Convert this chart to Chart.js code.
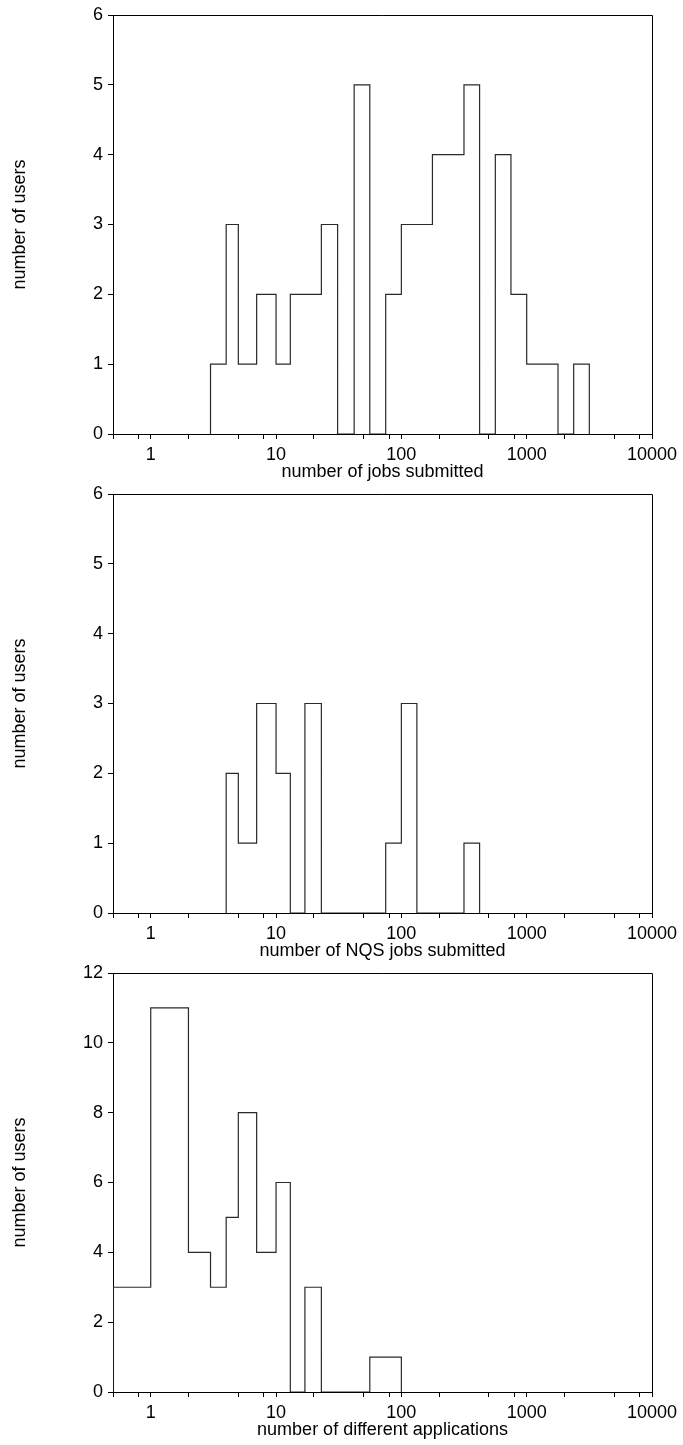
<!DOCTYPE html>
<html>
<head>
<meta charset="utf-8">
<script src="https://cdn.jsdelivr.net/npm/chart.js@4/dist/chart.umd.min.js"></script>
<style>
  body { margin: 0; background: #fff; }
  .panel { position: absolute; left: 0; width: 683px; height: 483px; }
</style>
</head>
<body>
<div class="panel" style="top:0px"><canvas id="jobs" width="683" height="483"></canvas></div>
<div class="panel" style="top:479px"><canvas id="nqs" width="683" height="483"></canvas></div>
<div class="panel" style="top:958px"><canvas id="apps" width="683" height="483"></canvas></div>
<script>
// bin edges (lower edge of each bin, last entry closes the last bin) and user counts
const jobsEdges = [3, 4, 5, 7, 10, 13, 17, 23, 31, 42, 56, 75, 100, 133, 177, 237, 316, 421, 562, 749, 1000, 1333, 1778, 2371, 3162];
const jobsCounts = [1, 3, 1, 2, 1, 2, 2, 3, 0, 5, 0, 2, 3, 3, 4, 4, 5, 0, 4, 2, 1, 1, 0, 1];

const nqsEdges = [4, 5, 7, 10, 13, 17, 23, 31, 42, 56, 75, 100, 133, 177, 237, 316, 421];
const nqsCounts = [2, 1, 3, 2, 0, 3, 0, 0, 0, 0, 1, 3, 0, 0, 0, 1];

const appsEdges = [0.5, 1, 2, 3, 4, 5, 7, 10, 13, 17, 23, 31, 42, 56, 75, 100];
const appsCounts = [3, 11, 4, 3, 5, 8, 4, 6, 0, 3, 0, 0, 0, 1, 1];

const xTickValues = [0.5, 0.8, 1, 2, 5, 8, 10, 20, 50, 80, 100, 200, 500, 800, 1000, 2000, 5000, 8000, 10000];
const xTickLabels = ['1', '10', '100', '1000', '10000'];

const fontFamily = '"Liberation Sans", Arial, Helvetica, sans-serif';

function stepPoints(edges, counts) {
  const pts = [{ x: edges[0], y: 0 }];
  counts.forEach((c, i) => pts.push({ x: edges[i], y: c }));
  pts.push({ x: edges[edges.length - 1], y: 0 });
  return pts;
}

const frameBox = {
  id: 'frameBox',
  afterDraw(chart) {
    const a = chart.chartArea;
    const ctx = chart.ctx;
    ctx.save();
    ctx.strokeStyle = '#000';
    ctx.lineWidth = 1;
    ctx.beginPath();
    ctx.moveTo(a.left, a.top + 0.5);
    ctx.lineTo(a.right + 0.5, a.top + 0.5);
    ctx.lineTo(a.right + 0.5, a.bottom);
    ctx.stroke();
    ctx.restore();
  }
};

function drawHist(id, edges, counts, yMax, yStep, xTitle) {
  new Chart(document.getElementById(id), {
    type: 'line',
    data: {
      datasets: [{
        data: stepPoints(edges, counts),
        stepped: true,
        borderColor: '#2a2a2a',
        borderWidth: 1.2,
        pointRadius: 0,
        fill: false
      }]
    },
    options: {
      responsive: false,
      animation: false,
      layout: { padding: { top: 15, right: 31, bottom: 0, left: 0 } },
      plugins: { legend: { display: false }, tooltip: { enabled: false } },
      scales: {
        x: {
          type: 'logarithmic',
          min: 0.5,
          max: 10000,
          afterBuildTicks: (scale) => { scale.ticks = xTickValues.map(v => ({ value: v })); },
          afterFit: (scale) => { scale.height = 49; scale.paddingLeft = 0; scale.paddingRight = 0; },
          ticks: {
            autoSkip: false,
            maxRotation: 0,
            padding: 5,
            color: '#000',
            font: { family: fontFamily, size: 18 },
            callback: (v) => xTickLabels.includes(String(v)) ? String(v) : ''
          },
          grid: { drawOnChartArea: false, tickLength: 5, tickColor: '#000' },
          border: { color: '#000', width: 1 },
          title: { display: true, text: xTitle, color: '#000', font: { family: fontFamily, size: 18 }, padding: { top: 0, bottom: 0 } }
        },
        y: {
          min: 0,
          max: yMax,
          afterFit: (scale) => { scale.width = 113; scale.paddingTop = 0; scale.paddingBottom = 0; },
          ticks: { stepSize: yStep, padding: 5, color: '#000', font: { family: fontFamily, size: 18 } },
          grid: { drawOnChartArea: false, tickLength: 5, tickColor: '#000' },
          border: { color: '#000', width: 1 },
          title: { display: true, text: 'number of users', color: '#000', font: { family: fontFamily, size: 18 }, padding: { top: 9, bottom: 0 } }
        }
      }
    },
    plugins: [frameBox]
  });
}

drawHist('jobs', jobsEdges, jobsCounts, 6, 1, 'number of jobs submitted');
drawHist('nqs', nqsEdges, nqsCounts, 6, 1, 'number of NQS jobs submitted');
drawHist('apps', appsEdges, appsCounts, 12, 2, 'number of different applications');
</script>
</body>
</html>
